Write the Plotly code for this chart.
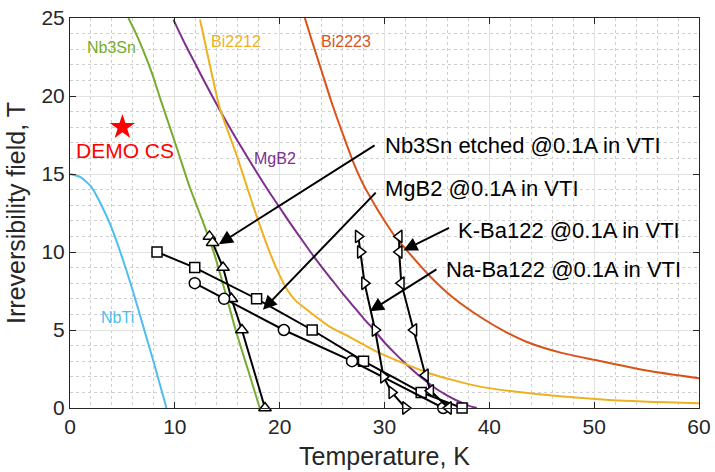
import plotly.graph_objects as go

# Irreversibility-field curves of technical superconductors (T, tesla)
nbti_T = [0, 1, 2, 3, 4, 5, 6, 7, 8, 9.2]
nbti_B = [15, 14.8, 14.2, 13.0, 11.5, 9.6, 7.5, 5.2, 2.9, 0]

nb3sn_T = [5.57, 6.3, 7.0, 7.8, 8.6, 10.2, 11.45, 12.7, 13.8, 14.8, 15.8, 17.0, 18.1]
nb3sn_B = [25, 24.0, 22.9, 21.5, 19.85, 16.65, 14.1, 11.9, 9.8, 7.45, 5.0, 2.4, 0]

mgb2_T = [9.86, 11, 12, 13, 14, 15, 16, 17, 18, 19, 20, 21, 22, 23, 24, 25, 26, 27,
          28, 29, 30, 31, 32, 33, 34, 35, 36, 37, 38, 38.8]
mgb2_B = [24.9, 23.3, 22.0, 20.7, 19.45, 18.25, 17.1, 16.0, 14.9, 13.85, 12.85,
          11.85, 10.9, 9.95, 9.05, 8.2, 7.35, 6.55, 5.75, 5.0, 4.2, 3.5, 2.85, 2.25,
          1.7, 1.2, 0.8, 0.45, 0.15, 0]

bi2212_T = [12.4, 13.4, 14.3, 15.9, 17.5, 19.1, 20.0, 20.7, 21.5, 22.6, 24.8, 26.7,
            29.6, 34.4, 39.1, 45.5, 51.8, 60]
bi2212_B = [24.9, 21.8, 19.2, 16.2, 12.9, 9.9, 8.5, 7.6, 6.9, 6.3, 5.2, 4.55, 3.5,
            2.2, 1.37, 0.83, 0.5, 0.3]

bi2223_T = [22.4, 23, 24, 25, 26, 27, 28, 29, 30, 31, 32, 34.4, 36.5, 39.1, 41.5,
            43.9, 46.8, 49.9, 55, 60]
bi2223_B = [25, 23.7, 21.6, 19.5, 17.6, 15.8, 14.3, 13.1, 12.0, 11.0, 10.2, 8.4,
            7.1, 5.85, 4.9, 4.15, 3.55, 3.1, 2.4, 1.9]

# Measured samples @0.1A in VTI
etched_T = [13.3, 13.6, 14.6, 15.4, 16.4, 18.6]
etched_B = [11, 10.6, 9, 7, 5, 0]

mgb2_meas_T = [8.3, 11.9, 17.8, 23.1, 28.0, 33.5, 37.4]
mgb2_meas_B = [10, 9, 7, 5, 3, 1, 0]

circ_T = [11.9, 14.7, 20.4, 26.9, 35.6]
circ_B = [8, 7, 5, 3, 0]

na122_T = [27.5, 27.7, 28.1, 29.1, 29.9, 30.7, 32.0]
na122_B = [11, 10, 8, 5, 2, 1, 0]

k122_T = [31.4, 31.4, 31.6, 32.8, 33.9, 34.4, 36.1]
k122_B = [11, 10, 8, 5, 2.1, 1.1, 0]

demo_T, demo_B = [5.0], [18.0]

FONT = "Liberation Sans"
INK = "#262626"

fig = go.Figure()

curves = [
    (nbti_T, nbti_B, "#4DBEEE"),
    (nb3sn_T, nb3sn_B, "#77AC30"),
    (mgb2_T, mgb2_B, "#7E2F8E"),
    (bi2212_T, bi2212_B, "#EDB120"),
    (bi2223_T, bi2223_B, "#D95319"),
]
for xs, ys, col in curves:
    fig.add_trace(go.Scatter(x=xs, y=ys, mode="lines",
                             line=dict(color=col, width=2, shape="spline",
                                       smoothing=0.6),
                             hoverinfo="skip"))

samples = [
    (etched_T, etched_B, "triangle-up", 11),
    (mgb2_meas_T, mgb2_meas_B, "square", 10),
    (circ_T, circ_B, "circle", 11),
    (na122_T, na122_B, "triangle-right", 11),
    (k122_T, k122_B, "triangle-left", 11),
]
for xs, ys, sym, sz in samples:
    fig.add_trace(go.Scatter(
        x=xs, y=ys, mode="lines+markers", cliponaxis=False,
        line=dict(color="black", width=2),
        marker=dict(symbol=sym, size=sz, color="white",
                    line=dict(color="black", width=1.5)),
    ))

fig.add_trace(go.Scatter(x=demo_T, y=demo_B, mode="markers",
                         marker=dict(symbol="star", size=19, color="#FF0000")))

# Curve labels
labels = [
    ("Nb3Sn", 4.0, 23.1, "#77AC30"),
    ("Bi2212", 15.8, 23.5, "#EDB120"),
    ("Bi2223", 26.3, 23.5, "#D95319"),
    ("MgB2", 19.6, 16.0, "#7E2F8E"),
    ("NbTi", 4.5, 5.8, "#4DBEEE"),
]
for txt, x, y, col in labels:
    fig.add_annotation(x=x, y=y, text=txt, showarrow=False,
                       font=dict(family=FONT, size=16, color=col))

fig.add_annotation(x=5.2, y=16.5, text="DEMO CS", showarrow=False,
                   font=dict(family=FONT, size=21, color="#FF0000"))

# Arrows pointing at the measured curves, with their captions
arrows = [
    ("Nb3Sn etched @0.1A in VTI", (29.2, 16.9), (14.2, 10.5), (29.9, 16.85)),
    ("MgB2 @0.1A in VTI", (29.3, 13.9), (18.4, 6.3), (29.9, 14.1)),
    ("K-Ba122 @0.1A in VTI", (36.3, 11.6), (31.8, 10.1), (36.8, 11.4)),
    ("Na-Ba122 @0.1A in VTI", (35.1, 8.95), (28.6, 6.2), (35.7, 8.85)),
]
for txt, tail, head, pos in arrows:
    fig.add_annotation(x=head[0], y=head[1], ax=tail[0], ay=tail[1],
                       xref="x", yref="y", axref="x", ayref="y", text="",
                       showarrow=True, arrowhead=2, arrowsize=1.4, arrowwidth=2,
                       arrowcolor="black", standoff=0, startstandoff=0)
    fig.add_annotation(x=pos[0], y=pos[1], text=txt, showarrow=False,
                       xanchor="left", yanchor="middle",
                       font=dict(family=FONT, size=22, color="black"))

axis_common = dict(
    showline=True, linecolor=INK, linewidth=1, mirror="ticks",
    ticks="inside", ticklen=6, tickcolor=INK, tickwidth=1,
    showgrid=True, gridcolor="#e2e2e2", gridwidth=1,
    zeroline=False, automargin=False,
    tickfont=dict(family=FONT, size=21, color=INK),
)

fig.update_xaxes(
    range=[0, 60], dtick=10, **axis_common,
    minor=dict(dtick=2, showgrid=True, griddash="dot", gridcolor="#cfcfcf",
               gridwidth=1, ticks=""),
    title=dict(text="Temperature, K", font=dict(family=FONT, size=25, color=INK),
               standoff=10),
)
fig.update_yaxes(
    range=[0, 25], dtick=5, **axis_common,
    minor=dict(dtick=1, showgrid=True, griddash="dot", gridcolor="#cfcfcf",
               gridwidth=1, ticks=""),
    title=dict(text="Irreversibility field, T",
               font=dict(family=FONT, size=25, color=INK), standoff=8),
)

fig.update_layout(
    width=715, height=472,
    margin=dict(l=70, r=16, t=18, b=64),
    plot_bgcolor="white", paper_bgcolor="white",
    showlegend=False,
)

fig.write_html("out.html")
